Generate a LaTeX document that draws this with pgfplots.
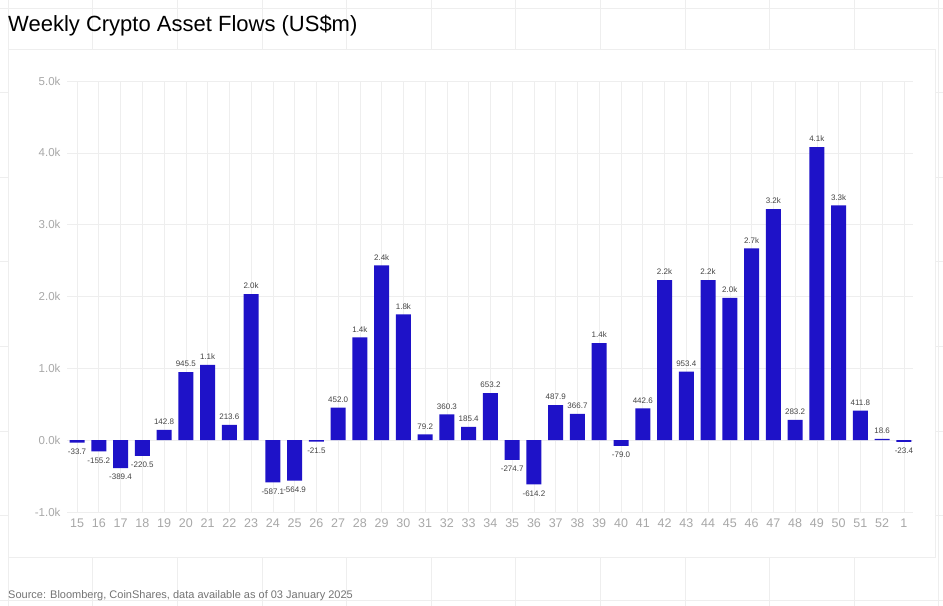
\documentclass[border=0pt]{standalone}
\usepackage{pgfplots}
\pgfplotsset{compat=1.18}
\usepackage{pgfplotstable}
\usepackage{fontspec}
\setmainfont{Liberation Sans}
\definecolor{barblue}{HTML}{1E12C8}
\definecolor{gridc}{HTML}{EEEEEE}
\definecolor{tickc}{HTML}{A8A8A8}
\definecolor{valc}{HTML}{444444}
\pgfplotstableread{
x y lab
4 142.8 142.8
5 945.5 945.5
6 1048 1.1k
7 213.6 213.6
8 2032 2.0k
12 452.0 452.0
13 1431 1.4k
14 2432 2.4k
15 1752 1.8k
16 79.2 79.2
17 360.3 360.3
18 185.4 185.4
19 653.2 653.2
22 487.9 487.9
23 366.7 366.7
24 1350 1.4k
26 442.6 442.6
27 2227 2.2k
28 953.4 953.4
29 2227 2.2k
30 1980 2.0k
31 2670 2.7k
32 3215 3.2k
33 283.2 283.2
34 4080 4.1k
35 3267 3.3k
36 411.8 411.8
37 18.6 18.6
}\pos
\pgfplotstableread{
x y lab
0 -33.7 -33.7
1 -155.2 -155.2
2 -389.4 -389.4
3 -220.5 -220.5
9 -587.1 -587.1
10 -564.9 -564.9
11 -21.5 -21.5
20 -274.7 -274.7
21 -614.2 -614.2
25 -79.0 -79.0
38 -23.4 -23.4
}\negs
\begin{document}
\begin{tikzpicture}[x=1bp,y=1bp]
\path[use as bounding box] (0,0) rectangle (943,606);
% background grid
\foreach \i in {0,...,11} {\draw[gridc, line width=0.6bp] ({8+84.6*\i},0) -- ({8+84.6*\i},606);}
\foreach \i in {0,...,7} {\draw[gridc, line width=0.6bp] (0,{598-84.6*\i}) -- (943,{598-84.6*\i});}
% panel
\fill[white] (8,49) rectangle (935,557);
\draw[gridc, line width=0.8bp] (8,49) rectangle (935,557);
% title and source
\node[anchor=base west, inner sep=0pt, font=\fontsize{22bp}{25bp}\selectfont] at (8,574) {Weekly Crypto Asset Flows (US\$m)};
\node[anchor=base west, inner sep=0pt, text=black!55, font=\fontsize{11bp}{13bp}\selectfont] at (8,7) {Source: Bloomberg, CoinShares, data available as of 03 January 2025};
\begin{axis}[
  at={(67bp,94bp)}, anchor=south west,
  scale only axis, width=846bp, height=431bp,
  xmin=-0.46, xmax=38.42,
  ymin=-1000, ymax=5000,
  ytick={-1000,0,1000,2000,3000,4000,5000},
  yticklabels={-1.0k,0.0k,1.0k,2.0k,3.0k,4.0k,5.0k},
  xtick={0,...,38},
  xticklabels={15,16,17,18,19,20,21,22,23,24,25,26,27,28,29,30,31,32,33,34,35,36,37,38,39,40,41,42,43,44,45,46,47,48,49,50,51,52,1},
  /pgf/number format/assume math mode=true,
  axis line style={draw=none},
  major tick length=0pt,
  grid=major,
  major grid style={gridc, line width=0.6bp},
  xticklabel style={text=tickc, font=\fontsize{12.5bp}{14bp}\selectfont, yshift=-3bp},
  yticklabel style={text=tickc, font=\fontsize{11.5bp}{13bp}\selectfont, xshift=-3bp},
  ybar, bar width=15bp, bar shift=0pt,
  point meta=explicit symbolic,
  nodes near coords,
  clip=false,
]
\addplot[fill=barblue, draw=none, every node near coord/.style={text=valc, font=\fontsize{8bp}{9bp}\selectfont, inner sep=0pt, anchor=south, yshift=5bp}] table[x=x, y=y, meta=lab] {\pos};
\addplot[fill=barblue, draw=none, every node near coord/.style={text=valc, font=\fontsize{8bp}{9bp}\selectfont, inner sep=0pt, anchor=north, yshift=-6bp}] table[x=x, y=y, meta=lab] {\negs};
\end{axis}
\end{tikzpicture}
\end{document}
